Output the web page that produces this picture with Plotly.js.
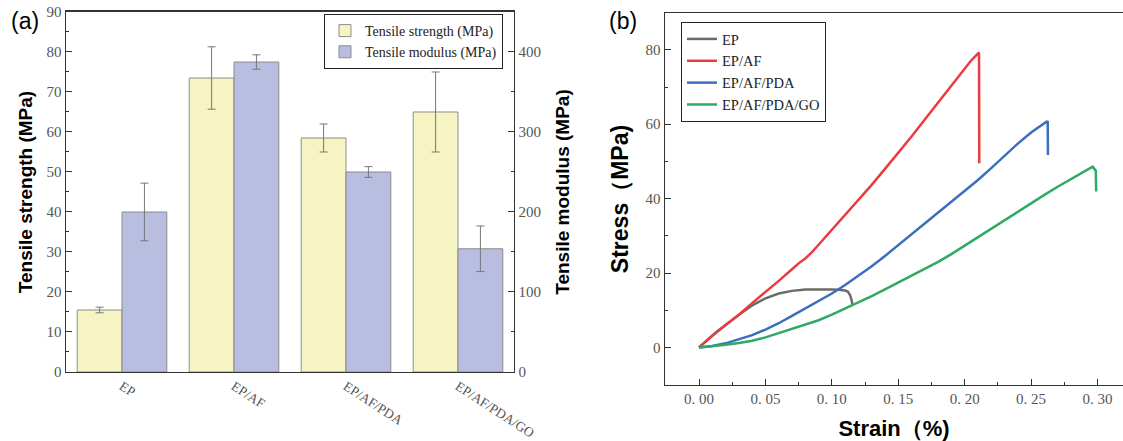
<!DOCTYPE html>
<html>
<head>
<meta charset="utf-8">
<script src="https://cdn.plot.ly/plotly-3.0.1.min.js"></script>
<style>html,body{margin:0;padding:0;background:#fff;}#chart{width:1123px;height:441px;}</style>
</head>
<body>
<div id="chart"></div>
<script>
// ---- Panel (a) data ----
const categories = ["EP", "EP/AF", "EP/AF/PDA", "EP/AF/PDA/GO"];
const strength = [15.5, 73.5, 58.5, 65.0];
const strengthErr = [0.7, 7.8, 3.5, 10.0];
const modulus = [200, 387.5, 250, 154];
const modulusErr = [36, 9, 6.7, 28.5];

// ---- Panel (b) data ----
const epStrain = [0, 0.005, 0.01, 0.0133, 0.02, 0.03, 0.04, 0.05, 0.06, 0.07, 0.08, 0.09, 0.10, 0.105, 0.11, 0.112, 0.1137, 0.1148, 0.1154];
const epStress = [0, 1.7, 3.2, 4.2, 6.1, 8.8, 11.3, 13.2, 14.5, 15.2, 15.6, 15.7, 15.6, 15.5, 15.3, 15.0, 14.1, 12.8, 11.6];

const afStrain = [0, 0.005, 0.01, 0.02, 0.03, 0.04, 0.05, 0.06, 0.07, 0.075, 0.08, 0.085, 0.09, 0.10, 0.11, 0.12, 0.13, 0.14, 0.15, 0.16, 0.17, 0.18, 0.19, 0.20, 0.205, 0.2103, 0.2108, 0.2110];
const afStress = [0, 1.6, 3.1, 6.0, 8.8, 11.9, 14.8, 17.9, 21.0, 22.6, 23.9, 25.6, 27.6, 31.6, 35.5, 39.5, 43.7, 48.0, 52.3, 56.7, 61.3, 65.9, 70.5, 75.0, 77.2, 79.1, 79.0, 49.5];

const pdaStrain = [0, 0.01, 0.02, 0.03, 0.04, 0.05, 0.06, 0.07, 0.08, 0.09, 0.10, 0.11, 0.12, 0.13, 0.14, 0.15, 0.16, 0.17, 0.18, 0.19, 0.20, 0.21, 0.22, 0.23, 0.24, 0.25, 0.2617, 0.2625, 0.2627];
const pdaStress = [0, 0.4, 1.1, 2.2, 3.3, 4.8, 6.5, 8.5, 10.5, 12.6, 14.5, 16.8, 19.2, 21.8, 24.6, 27.5, 30.4, 33.2, 36.1, 39.0, 42.0, 45.0, 48.2, 51.5, 54.8, 57.8, 60.7, 60.6, 51.7];

const goStrain = [0, 0.01, 0.02, 0.03, 0.04, 0.05, 0.06, 0.07, 0.08, 0.09, 0.10, 0.11, 0.12, 0.13, 0.14, 0.15, 0.16, 0.17, 0.18, 0.19, 0.20, 0.21, 0.22, 0.23, 0.24, 0.25, 0.26, 0.27, 0.28, 0.29, 0.2964, 0.2987, 0.2990];
const goStress = [0, 0.3, 0.7, 1.2, 1.8, 2.7, 3.8, 4.9, 6.1, 7.3, 8.8, 10.4, 12.0, 13.8, 15.6, 17.4, 19.2, 21.0, 23.0, 25.1, 27.4, 29.7, 31.9, 34.1, 36.4, 38.7, 41.0, 43.2, 45.3, 47.3, 48.6, 47.5, 41.9];

const strainTickVals = [0, 0.05, 0.10, 0.15, 0.20, 0.25, 0.30];
const strainTickText = ["0. 00", "0. 05", "0. 10", "0. 15", "0. 20", "0. 25", "0. 30"];

const serif = "Liberation Serif, Times New Roman, serif";
const sans = "Liberation Sans, Arial, sans-serif";
const tickGray = "#555";
const lineCol = "#333";

const traces = [
  {
    type: "bar", name: "Tensile strength (MPa)", x: categories, y: strength,
    xaxis: "x", yaxis: "y", offsetgroup: "1",
    marker: {color: "#f6f4c3", line: {color: "#8c8c8c", width: 1}},
    error_y: {type: "data", array: strengthErr, visible: true, color: "#777", thickness: 1, width: 4}
  },
  {
    type: "bar", name: "Tensile modulus (MPa)", x: categories, y: modulus,
    xaxis: "x", yaxis: "y2", offsetgroup: "2",
    marker: {color: "#b9bddf", line: {color: "#8c8c8c", width: 1}},
    error_y: {type: "data", array: modulusErr, visible: true, color: "#777", thickness: 1, width: 4}
  },
  {type: "scatter", mode: "lines", name: "EP", x: epStrain, y: epStress, xaxis: "x2", yaxis: "y3", legend: "legend2",
   line: {color: "#6b6b6b", width: 2.5}},
  {type: "scatter", mode: "lines", name: "EP/AF", x: afStrain, y: afStress, xaxis: "x2", yaxis: "y3", legend: "legend2",
   line: {color: "#ea3c40", width: 2.5}},
  {type: "scatter", mode: "lines", name: "EP/AF/PDA", x: pdaStrain, y: pdaStress, xaxis: "x2", yaxis: "y3", legend: "legend2",
   line: {color: "#3a6fbd", width: 2.5}},
  {type: "scatter", mode: "lines", name: "EP/AF/PDA/GO", x: goStrain, y: goStress, xaxis: "x2", yaxis: "y3", legend: "legend2",
   line: {color: "#2fa964", width: 2.5}}
];

const layout = {
  width: 1123, height: 441,
  margin: {l: 0, r: 0, t: 0, b: 0},
  paper_bgcolor: "#fff", plot_bgcolor: "rgba(0,0,0,0)",
  barmode: "group", bargap: 0.2, bargroupgap: 0,
  showlegend: true,
  font: {family: serif, color: "#000"},
  xaxis: {
    domain: [0.0588, 0.4577], anchor: "y", range: [-0.5, 3.5],
    showline: true, linecolor: lineCol, linewidth: 1.5, mirror: true,
    ticks: "", tickangle: 33, tickfont: {family: serif, size: 13.5, color: tickGray},
    showgrid: false, zeroline: false, automargin: false
  },
  yaxis: {
    domain: [0.1565, 0.9728], anchor: "x", range: [0, 90], dtick: 10,
    showline: true, linecolor: lineCol, linewidth: 1.5,
    ticks: "inside", ticklen: 6, tickcolor: lineCol,
    minor: {dtick: 5, ticks: "inside", ticklen: 3, tickcolor: lineCol},
    tickfont: {family: serif, size: 15, color: tickGray},
    showgrid: false, zeroline: false, automargin: false,
    title: {text: "Tensile strength (MPa)", font: {family: sans, size: 19, color: "#000", weight: "bold"}, standoff: 9}
  },
  yaxis2: {
    overlaying: "y", side: "right", anchor: "x", range: [0, 450], dtick: 100,
    showline: true, linecolor: lineCol, linewidth: 1.5,
    ticks: "inside", ticklen: 6, tickcolor: lineCol,
    minor: {dtick: 50, ticks: "inside", ticklen: 3, tickcolor: lineCol},
    tickfont: {family: serif, size: 15, color: tickGray},
    showgrid: false, zeroline: false, automargin: false,
    title: {text: "Tensile modulus (MPa)", font: {family: sans, size: 19, color: "#000", weight: "bold"}, standoff: 15}
  },
  xaxis2: {
    domain: [0.5922, 1.0], anchor: "y3", range: [-0.0256, 0.3192],
    tickvals: strainTickVals, ticktext: strainTickText,
    showline: true, linecolor: lineCol, linewidth: 1.5, mirror: true,
    ticks: "inside", ticklen: 6, tickcolor: lineCol,
    minor: {dtick: 0.025, ticks: "inside", ticklen: 3, tickcolor: lineCol},
    tickfont: {family: serif, size: 15, color: tickGray},
    showgrid: false, zeroline: false, automargin: false,
    title: {text: "Strain（%)", font: {family: sans, size: 22, color: "#000", weight: "bold"}, standoff: 14}
  },
  yaxis3: {
    domain: [0.127, 0.9705], anchor: "x2", range: [-10.1, 89.9], dtick: 20,
    showline: true, linecolor: lineCol, linewidth: 1.5,
    ticks: "inside", ticklen: 6, tickcolor: lineCol,
    minor: {dtick: 10, ticks: "inside", ticklen: 3, tickcolor: lineCol},
    tickfont: {family: serif, size: 15, color: tickGray},
    showgrid: false, zeroline: false, automargin: false,
    title: {text: "Stress（MPa)", font: {family: sans, size: 23, color: "#000", weight: "bold"}, standoff: 10}
  },
  legend: {
    x: 0.2885, y: 1 - 14 / 441, xanchor: "left", yanchor: "top",
    bgcolor: "#fff", bordercolor: "#222", borderwidth: 1,
    font: {family: serif, size: 14, color: "#222"},
    tracegroupgap: 0, itemwidth: 30
  },
  legend2: {
    x: 0.6064, y: 1 - 22 / 441, xanchor: "left", yanchor: "top",
    bgcolor: "#fff", bordercolor: "#222", borderwidth: 1,
    font: {family: serif, size: 14.5, color: "#222"},
    tracegroupgap: 0, itemwidth: 30
  },
  annotations: [
    {text: "(a)", xref: "paper", yref: "paper", x: 25 / 1123, y: 1 - 21 / 441, xanchor: "center", yanchor: "middle",
     showarrow: false, font: {family: sans, size: 23, color: "#000"}},
    {text: "(b)", xref: "paper", yref: "paper", x: 623 / 1123, y: 1 - 21 / 441, xanchor: "center", yanchor: "middle",
     showarrow: false, font: {family: sans, size: 23, color: "#000"}}
  ]
};

Plotly.newPlot("chart", traces, layout, {displayModeBar: false, staticPlot: true});
</script>
</body>
</html>
